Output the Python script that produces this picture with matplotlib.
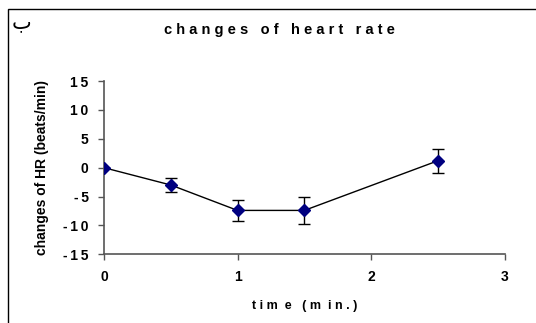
import matplotlib
matplotlib.use("Agg")
import matplotlib.pyplot as plt
from matplotlib.patches import Rectangle

# time (min) and mean change of heart rate with error bar half-widths
time_min = [0, 0.5, 1, 1.5, 2.5]
hr_change = [0, -3.0, -7.4, -7.4, 1.2]
hr_err = [0, 1.2, 1.85, 2.4, 2.1]

x_ticks = [0, 1, 2, 3]
y_ticks = [-15, -10, -5, 0, 5, 10, 15]
y_ticklabels = ["-\u20091\u20095", "-\u20091\u20090", "-\u20095", "0", "5",
                "1\u20090", "1\u20095"]

plt.rcParams["font.family"] = ["Liberation Sans", "DejaVu Sans"]
plt.rcParams["axes.unicode_minus"] = False

fig = plt.figure(figsize=(5.36, 3.23), dpi=100)
ax = fig.add_axes([0.194, 0.2127, 0.7476, 0.5363])

ax.errorbar(time_min, hr_change, yerr=hr_err, color="black", lw=1,
            ecolor="black", elinewidth=1, capsize=4, capthick=1,
            marker="D", markersize=6, markerfacecolor="#000080",
            markeredgecolor="#000080", zorder=3)

ax.set_xlim(0, 3)
ax.set_ylim(-15, 15)
ax.set_xticks(x_ticks)
ax.set_yticks(y_ticks, y_ticklabels)
ax.tick_params(direction="out", length=4, width=1, color="#555555",
               labelsize=10, pad=7)
for lab in ax.get_xticklabels() + ax.get_yticklabels():
    lab.set_fontweight("bold")
for side in ("top", "right"):
    ax.spines[side].set_visible(False)
for side in ("left", "bottom"):
    ax.spines[side].set_color("#555555")
    ax.spines[side].set_linewidth(1.2)

ax.set_xlabel("t i m  e   ( m  i n . )", fontsize=9, fontweight="bold",
              labelpad=12)
ax.set_ylabel("changes of HR (beats/min)", fontsize=10, fontweight="bold",
              labelpad=10)
fig.text(0.5215, 0.907, "c h a n g e s   o f   h e a r t   r a t e",
         ha="center", va="center", fontsize=10.5, fontweight="bold")
fig.text(0.040, 0.93, "ب", ha="center", va="center", fontsize=15,
         rotation=0, family=["DejaVu Sans"])

# outer frame (top and left edges visible)
fig.patches.append(Rectangle((0.015, -0.1), 1.2, 1.072, transform=fig.transFigure,
                             fill=False, edgecolor="black", lw=1))

fig.savefig("out.png", dpi=100)
